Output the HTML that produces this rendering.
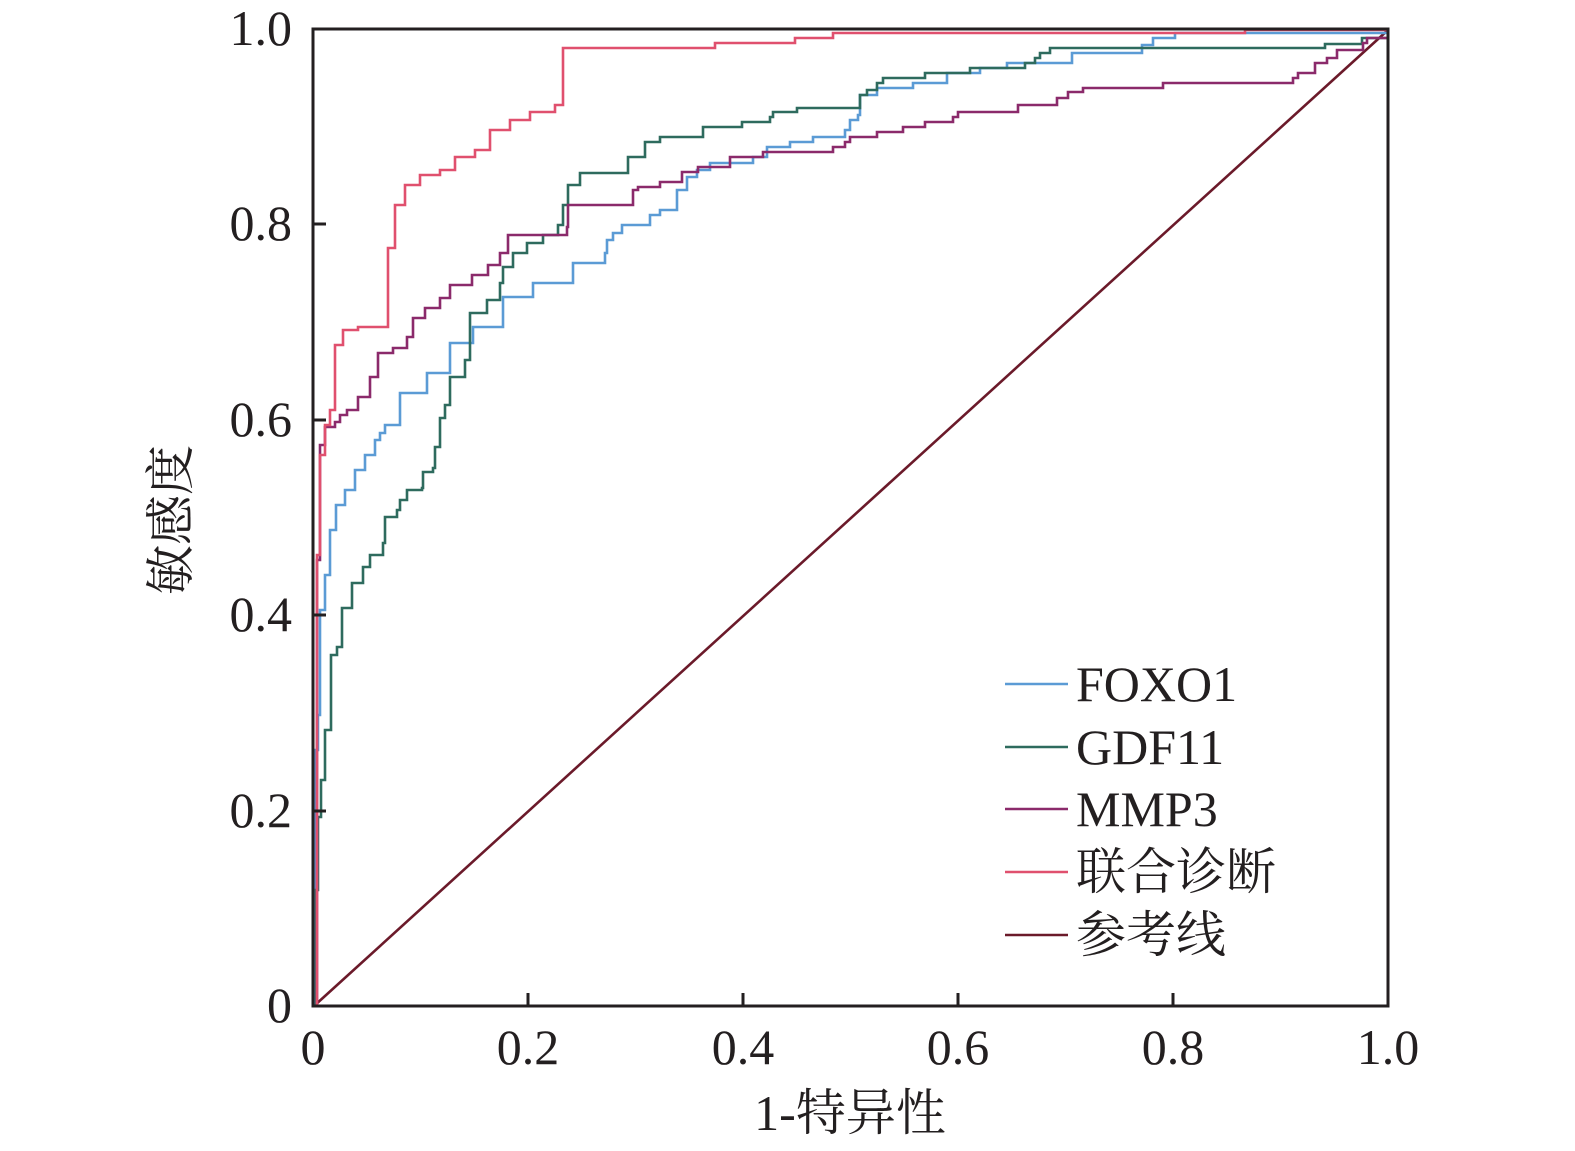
<!DOCTYPE html>
<html><head><meta charset="utf-8"><style>
html,body{margin:0;padding:0;background:#fff;}
svg{display:block}
text{font-family:"Liberation Serif","Noto Serif CJK SC","Noto Sans CJK SC",serif;fill:#231f20}
</style></head><body>
<svg width="1575" height="1151" viewBox="0 0 1575 1151" xmlns="http://www.w3.org/2000/svg">
<rect width="1575" height="1151" fill="#fff"/>
<g fill="none" stroke-width="2.6">
<line x1="314" y1="1006" x2="1388" y2="30" stroke="#6b1a2a"/>
<path stroke="#5b9bd5" d="M315 1006 V750 H318 V715 H320 V610 H325 V575 H330 V530 H336 V505 H345 V490 H355 V470 H365 V455 H375 V440 H380 V433 H385 V425 H400 V393 H427 V373 H450 V343 H473 V327 H503 V297 H533 V283 H573 V263 H605 V253 H607 V240 H613 V233 H622 V225 H650 V215 H660 V210 H677 V190 H687 V177 H697 V170 H710 V163 H753 V157 H767 V147 H790 V142 H813 V137 H845 V130 H850 V120 H858 V115 H860 V95 H877 V88 H913 V83 H947 V73 H980 V68 H1007 V63 H1072 V53 H1142 V45 H1153 V38 H1175 V33 H1388 V30"/>
<path stroke="#2e6b5e" d="M316 1006 V890 H318 V817 H321 V780 H325 V730 H331 V655 H337 V647 H342 V608 H352 V583 H363 V567 H370 V555 H383 V543 H385 V517 H397 V510 H400 V500 H407 V490 H422 V488 H423 V472 H433 V468 H435 V447 H440 V418 H445 V405 H450 V377 H465 V360 H470 V313 H487 V300 H500 V283 H503 V267 H513 V253 H527 V243 H543 V235 H558 V225 H563 V205 H568 V185 H580 V173 H628 V157 H645 V142 H660 V137 H703 V127 H742 V122 H770 V117 H773 V112 H797 V108 H860 V95 H867 V90 H877 V83 H883 V78 H925 V73 H970 V68 H1025 V63 H1035 V58 H1040 V53 H1050 V48 H1325 V44 H1362 V38 H1388 V30"/>
<path stroke="#8b2a6b" d="M317 1006 V560 H320 V445 H325 V427 H335 V422 H340 V415 H347 V410 H358 V397 H370 V377 H378 V353 H393 V348 H407 V337 H413 V318 H425 V308 H440 V298 H450 V285 H472 V275 H488 V265 H500 V253 H508 V235 H557 V235 H567 V227 H568 V205 H633 V190 H638 V187 H660 V182 H682 V172 H698 V167 H730 V157 H763 V152 H833 V147 H845 V142 H850 V137 H877 V132 H903 V127 H925 V122 H953 V117 H958 V112 H1018 V105 H1057 V98 H1068 V92 H1083 V88 H1163 V83 H1293 V78 H1298 V73 H1315 V63 H1327 V58 H1337 V50 H1363 V43 H1367 V38 H1388 V30"/>
<path stroke="#e0506e" d="M317 1006 V555 H320 V455 H325 V425 H330 V410 H335 V345 H343 V330 H358 V327 H388 V248 H395 V205 H405 V185 H420 V175 H440 V170 H455 V157 H475 V150 H490 V130 H510 V120 H530 V112 H555 V105 H563 V48 H715 V43 H795 V38 H833 V33 H1245 V30 H1388"/>
</g>
<g stroke="#231f20" stroke-width="3" fill="none">
<rect x="313" y="29" width="1075" height="977"/>
<line x1="313" y1="224" x2="326" y2="224"/><line x1="313" y1="420" x2="326" y2="420"/>
<line x1="313" y1="615" x2="326" y2="615"/><line x1="313" y1="811" x2="326" y2="811"/>
<line x1="528" y1="1006" x2="528" y2="993"/><line x1="743" y1="1006" x2="743" y2="993"/>
<line x1="958" y1="1006" x2="958" y2="993"/><line x1="1173" y1="1006" x2="1173" y2="993"/>
</g>
<g font-size="50" text-anchor="end">
<text x="292" y="45">1.0</text><text x="292" y="240">0.8</text><text x="292" y="436">0.6</text>
<text x="292" y="631">0.4</text><text x="292" y="827">0.2</text><text x="292" y="1022">0</text>
</g>
<g font-size="50" text-anchor="middle">
<text x="313" y="1064">0</text><text x="528" y="1064">0.2</text><text x="743" y="1064">0.4</text>
<text x="958" y="1064">0.6</text><text x="1173" y="1064">0.8</text><text x="1388" y="1064">1.0</text>
<text x="850" y="1130">1-特异性</text>
<text transform="translate(188,520) rotate(-90)">敏感度</text>
</g>
<g stroke-width="2.6">
<line x1="1005" y1="684" x2="1068" y2="684" stroke="#5b9bd5"/>
<line x1="1005" y1="747" x2="1068" y2="747" stroke="#2e6b5e"/>
<line x1="1005" y1="809" x2="1068" y2="809" stroke="#8b2a6b"/>
<line x1="1005" y1="872" x2="1068" y2="872" stroke="#e0506e"/>
<line x1="1005" y1="935" x2="1068" y2="935" stroke="#6b1a2a"/>
</g>
<g font-size="50">
<text x="1076" y="701">FOXO1</text><text x="1076" y="764">GDF11</text><text x="1076" y="826">MMP3</text>
<text x="1076" y="889">联合诊断</text><text x="1076" y="952">参考线</text>
</g>
</svg>
</body></html>
